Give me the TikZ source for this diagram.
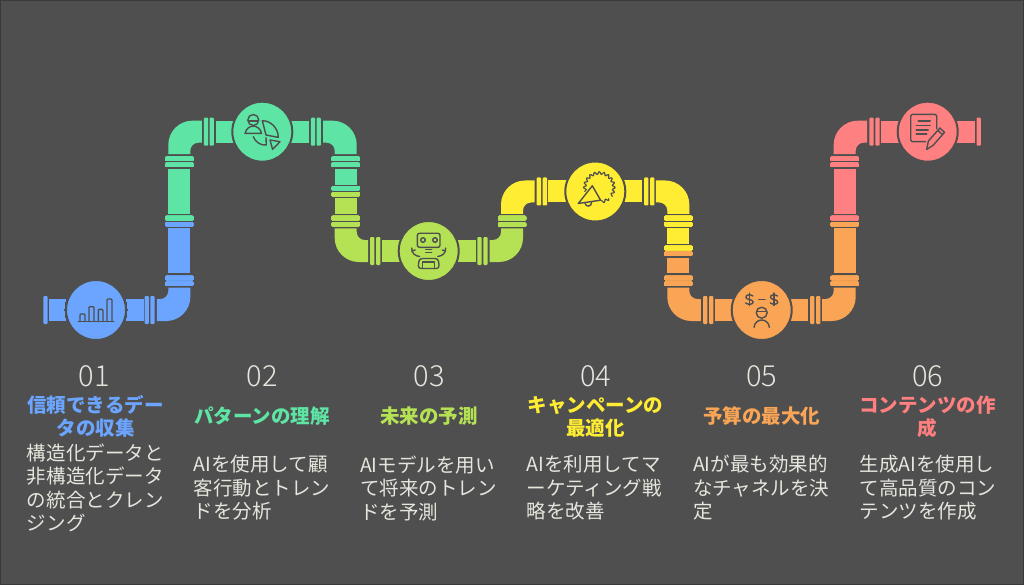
\documentclass[tikz,border=0pt]{standalone}
\usepackage{fontspec}
\setmainfont{Noto Sans CJK JP}
\newfontfamily\numfont{Noto Sans CJK JP Light}
\definecolor{bgdark}{HTML}{4F4F4F}
\definecolor{edgedark}{HTML}{3A3A3A}
\definecolor{pipeblue}{HTML}{6BA5FF}
\definecolor{pipegreen}{HTML}{5EE5A5}
\definecolor{pipelime}{HTML}{B5E254}
\definecolor{pipeyellow}{HTML}{FFED33}
\definecolor{pipeorange}{HTML}{F9A555}
\definecolor{pipered}{HTML}{FF8080}
\definecolor{bodytext}{HTML}{E6E6DE}
\tikzset{
  valve/.style={circle,draw=bgdark,line width=2pt,minimum size=60pt,inner sep=0pt},
  icon/.style={draw=bgdark,line width=1.4pt,line cap=round,line join=round},
  numlabel/.style={text=bodytext,font=\numfont\fontsize{29}{32}\selectfont},
  titlelabel/.style={align=center,text width=150pt,font=\bfseries\fontsize{19.5}{23.2}\selectfont},
  bodylabel/.style={text=bodytext,align=left,text width=138pt,inner sep=0pt,font=\fontsize{19.5}{23.5}\selectfont}
}
% flange across a horizontal run / a vertical run
\newcommand{\hflange}[3]{\fill[#3,rounded corners=1pt] (#1-2.2,#2-14) rectangle (#1+2.2,#2+14);}
\newcommand{\vflange}[3]{\fill[#3,rounded corners=1pt] (#1-14,#2-2.2) rectangle (#1+14,#2+2.2);}
% elbow: corner x, corner y, direction of the arms, colour
\newcommand{\elbow}[5]{
  \begin{scope}[shift={(#1,#2)},xscale=#3,yscale=#4]
    \fill[#5] (22.5,-11) -- (13,-11) .. controls (-0.2,-11) and (-11,-0.2) .. (-11,13) -- (-11,22.5)
      -- (11,22.5) -- (11,19) .. controls (11,14.6) and (14.6,11) .. (19,11) -- (22.5,11) -- cycle;
  \end{scope}}
\begin{document}
\begin{tikzpicture}[x=1pt,y=-1pt]
  \useasboundingbox (0,0) rectangle (1024,585);
  \fill[bgdark] (0,0) rectangle (1024,585);
  \draw[edgedark,line width=1.5pt] (0,0) rectangle (1024,585);
  % straight runs
  \foreach \xa/\xb/\yc/\c in {49/144/310/pipeblue,216/309/131.7/pipegreen,382/476/251/pipelime,
    548/642/191.5/pipeyellow,715/808/310/pipeorange,881/975/131.7/pipered}
    \fill[\c] (\xa,\yc-11) rectangle (\xb,\yc+11);
  \foreach \xc/\ya/\yb/\c in {179.3/228.3/273.3/pipeblue,179.3/169/214/pipegreen,345.7/169/185.3/pipegreen,
    345.7/198.3/214/pipelime,678.3/228.3/244/pipeyellow,678.3/257.7/273.3/pipeorange,
    844.7/228.3/273.3/pipeorange,844.7/169/214/pipered}
    \fill[\c] (\xc-11,\ya) rectangle (\xc+11,\yb);
  % elbows
  \elbow{179.3}{310}{-1}{-1}{pipeblue}
  \elbow{179.3}{131.7}{1}{1}{pipegreen}
  \elbow{345.7}{131.7}{-1}{1}{pipegreen}
  \elbow{345.7}{251}{1}{-1}{pipelime}
  \elbow{512}{251}{-1}{-1}{pipelime}
  \elbow{512}{191.5}{1}{1}{pipeyellow}
  \elbow{678.3}{191.5}{-1}{1}{pipeyellow}
  \elbow{678.3}{310}{1}{-1}{pipeorange}
  \elbow{844.7}{310}{-1}{-1}{pipeorange}
  \elbow{844.7}{131.7}{1}{1}{pipered}
  % flanges
  \foreach \x/\y/\c in {45.5/310/pipeblue,146.7/310/pipeblue,152.5/310/pipeblue,
    206/131.7/pipegreen,211.7/131.7/pipegreen,313/131.7/pipegreen,318.7/131.7/pipegreen,
    372.2/251/pipelime,378.2/251/pipelime,479.5/251/pipelime,485.5/251/pipelime,
    538.8/191.5/pipeyellow,544.8/191.5/pipeyellow,646.2/191.5/pipeyellow,652.2/191.5/pipeyellow,
    705.2/310/pipeorange,711.2/310/pipeorange,812.2/310/pipeorange,818.2/310/pipeorange,
    871.5/131.7/pipered,877.5/131.7/pipered,978.7/131.7/pipered}
    \hflange{\x}{\y}{\c}
  \foreach \x/\y/\c in {179.3/278/pipeblue,179.3/283.7/pipeblue,179.3/224.3/pipeblue,179.3/218.2/pipegreen,
    179.3/164.8/pipegreen,179.3/158.8/pipegreen,345.7/164.8/pipegreen,345.7/158.8/pipegreen,
    345.7/188.3/pipegreen,345.7/194.3/pipelime,345.7/218.2/pipelime,345.7/224.3/pipelime,
    512/224.8/pipelime,512/218.2/pipelime,678.3/218.2/pipeyellow,678.3/224.3/pipeyellow,
    678.3/248/pipeyellow,678.3/253.7/pipeorange,678.3/278/pipeorange,678.3/283.7/pipeorange,
    844.7/278/pipeorange,844.7/283.7/pipeorange,844.7/224.3/pipeorange,844.7/218.2/pipered,
    844.7/164.8/pipered,844.7/158.8/pipered}
    \vflange{\x}{\y}{\c}
  % valves
  \node[valve,fill=pipeblue] (valve1) at (96,310) {};
  \node[valve,fill=pipegreen] (valve2) at (262.3,131.7) {};
  \node[valve,fill=pipelime] (valve3) at (428.7,251) {};
  \node[valve,fill=pipeyellow] (valve4) at (595.3,191.5) {};
  \node[valve,fill=pipeorange] (valve5) at (761.7,310) {};
  \node[valve,fill=pipered] (valve6) at (927.7,131.7) {};
  % icon 1: bars
  \begin{scope}[shift={(96,310)}]
    \draw[icon] (-17.7,11.7) -- (18,11.7);
    \foreach \xa/\xb/\yt in {-16/-11/4,-7/-2/-3.3,2.3/7/-0.7,11/16/-11}
      \draw[icon,rounded corners=1pt] (\xa,11.7) -- (\xa,\yt) -- (\xb,\yt) -- (\xb,11.7);
  \end{scope}
  % icon 2: person and pie
  \begin{scope}[shift={(262.3,131.7)}]
    \draw[icon] (-9,-11.7) circle (5.5);
    \draw[icon] (-14,-10.5) -- (-4,-10.5);
    \draw[icon] (-17.3,1.7) .. controls (-15,-8) and (-3,-8) .. (-0.7,1.7) -- cycle;
    \draw[icon] (0,-11) .. controls (9,-11) and (16,-3) .. (16,5.7) -- (3.7,3.3) -- cycle;
    \draw[icon] (-9,5) .. controls (-7,10) and (-2,14) .. (4,13.3) -- (3.7,6);
    \draw[icon] (7.7,8.3) -- (17.7,10) -- (10.3,17.7) -- cycle;
  \end{scope}
  % icon 3: robot
  \begin{scope}[shift={(428.7,251)}]
    \draw[icon,rounded corners=2pt] (-11.3,-17.7) rectangle (11.3,-3.7);
    \draw[icon] (-5.7,-11) circle (2.3);
    \draw[icon] (6.3,-11) circle (2.3);
    \draw[icon] (-3,-1.3) -- (3,-1.3);
    \draw[icon] (-3,1.7) -- (3,1.7);
    \draw[icon,rounded corners=3pt] (-10.7,17.5) -- (-9.5,7.5) -- (9.5,7.5) -- (10.7,17.5) -- cycle;
    \draw[icon] (-6,17.5) -- (-6,11) -- (6,11) -- (6,17.5);
    \draw[icon] (-17,-3) .. controls (-17,3) and (-13,5) .. (-9,5.5);
    \draw[icon] (17,-3) .. controls (17,3) and (13,5) .. (9,5.5);
    \draw[icon] (-17,0) -- (-13.5,-1);
    \draw[icon] (17,0) -- (13.5,-1);
  \end{scope}
  % icon 4: megaphone
  \begin{scope}[shift={(595.3,191.5)}]
    \draw[icon] (-3,-5.7) -- (-17,12) -- (5.3,8.7) -- cycle;
    \draw[icon] (-10.5,11) .. controls (-10,16) and (-3.5,16) .. (-3.5,10);
    \draw[icon,line width=1.2pt,smooth] plot[domain=165:275,samples=55] ({4+(14.5+1.3*cos(20*\x))*cos(\x)},{-4+(14.5+1.3*cos(20*\x))*sin(\x)});
    \draw[icon,line width=1.2pt,smooth] plot[domain=275:395,samples=60] ({4+(14.5+1.3*cos(20*\x))*cos(\x)},{-4+(14.5+1.3*cos(20*\x))*sin(\x)});
    \draw[icon,line width=1.2pt,smooth] plot[domain=50:80,samples=15] ({4+(14.5+1.3*cos(20*\x))*cos(\x)},{-4+(14.5+1.3*cos(20*\x))*sin(\x)});
  \end{scope}
  % icon 5: money face
  \begin{scope}[shift={(761.7,310)}]
    \foreach \xd in {-12.3,12.3} {
      \draw[icon] (\xd+3.5,-14) .. controls (\xd+1,-16) and (\xd-4,-15.5) .. (\xd-3.5,-12.5)
        .. controls (\xd-3,-10) and (\xd+3.5,-11) .. (\xd+3.7,-8)
        .. controls (\xd+4,-5.5) and (\xd-1,-5) .. (\xd-3.8,-7);
      \draw[icon] (\xd,-17) -- (\xd,-4.5);
    }
    \draw[icon] (-3,-10.7) -- (3.3,-10.7);
    \draw[icon] (0,2.7) circle (5.5);
    \draw[icon] (-5,1.2) -- (5,1.2);
    \draw[icon] (-7.7,17.3) .. controls (-7,12) and (-3,10) .. (0,10) .. controls (3,10) and (7,12) .. (7.7,17.3);
  \end{scope}
  % icon 6: sheet and pencil
  \begin{scope}[shift={(927.7,131.7)}]
    \draw[icon,rounded corners=1.5pt] (9,-3) -- (9,-17.3) -- (-17,-17.3) -- (-17,10) -- (-2,10);
    \draw[icon] (-9.5,-10.7) -- (2.5,-10.7);
    \draw[icon] (-11.5,-6) -- (2.5,-6);
    \draw[icon] (-11.5,-1.7) -- (0.5,-1.7);
    \draw[icon] (-11.5,2.3) -- (-1,2.3);
    \draw[icon] (16.8,0.7) -- (12.2,-3.7) -- (0.7,9.3) -- (-1,17.7) -- (5.3,13.7) -- cycle;
    \draw[icon] (14.7,2.9) -- (10.1,-1.5);
  \end{scope}
  % numbers
  \node[numlabel] (num1) at (94,376) {01};
  \node[numlabel] (num2) at (262,376) {02};
  \node[numlabel] (num3) at (429,376) {03};
  \node[numlabel] (num4) at (595.7,376) {04};
  \node[numlabel] (num5) at (761.7,376) {05};
  \node[numlabel] (num6) at (927.7,376) {06};
  % titles
  \node[titlelabel,text=pipeblue] (title1) at (95.5,416.5) {信頼できるデー\\タの収集};
  \node[titlelabel,text=pipegreen] (title2) at (262,416.5) {パターンの理解};
  \node[titlelabel,text=pipelime] (title3) at (429,416.5) {未来の予測};
  \node[titlelabel,text=pipeyellow] (title4) at (595.7,416.5) {キャンペーンの\\最適化};
  \node[titlelabel,text=pipeorange] (title5) at (761.7,416.5) {予算の最大化};
  \node[titlelabel,text=pipered] (title6) at (927.7,416.5) {コンテンツの作\\成};
  % descriptions
  \node[bodylabel] (body1) at (96,488) {構造化データと\\非構造化データ\\の統合とクレン\\ジング};
  \node[bodylabel] (body2) at (262.5,488) {AIを使用して顧\\客行動とトレン\\ドを分析};
  \node[bodylabel] (body3) at (429,488) {AIモデルを用い\\て将来のトレン\\ドを予測};
  \node[bodylabel] (body4) at (595.7,488) {AIを利用してマ\\ーケティング戦\\略を改善};
  \node[bodylabel] (body5) at (762,488) {AIが最も効果的\\なチャネルを決\\定};
  \node[bodylabel] (body6) at (928.5,488) {生成AIを使用し\\て高品質のコン\\テンツを作成};
\end{tikzpicture}
\end{document}
